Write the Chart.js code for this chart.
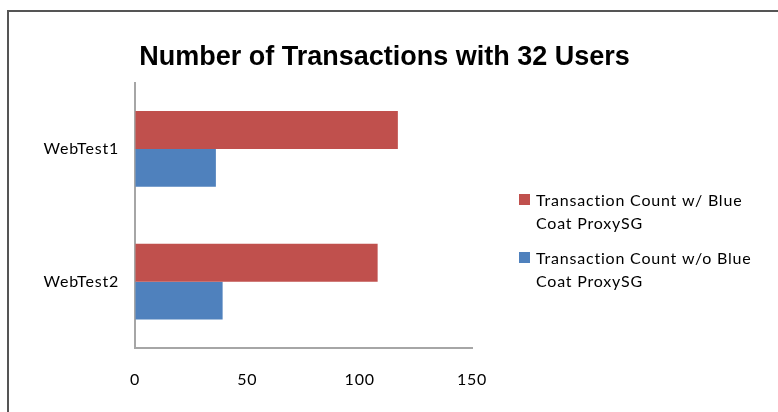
<!DOCTYPE html>
<html>
<head>
<meta charset="utf-8">
<script src="https://cdn.jsdelivr.net/npm/chart.js@4/dist/chart.umd.min.js"></script>
<style>
  html, body { margin: 0; padding: 0; background: #fff; }
  #wrap { width: 778px; height: 412px; position: relative; }
</style>
</head>
<body>
<div id="wrap"><canvas id="c" width="778" height="412"></canvas></div>
<script>
const categories = ['WebTest1', 'WebTest2'];
const withProxy = [117, 108];
const withoutProxy = [36, 39];
const seriesNames = [
  ['Transaction Count w/ Blue', 'Coat ProxySG'],
  ['Transaction Count w/o Blue', 'Coat ProxySG']
];
const xTicks = [0, 50, 100, 150];
const titleText = 'Number of Transactions with 32 Users';

const frame = {
  id: 'frame',
  afterInit(chart) {
    chart.ctx.letterSpacing = '0.8px';
  },
  beforeDraw(chart) {
    const ctx = chart.ctx;
    ctx.save();
    ctx.fillStyle = '#ffffff';
    ctx.fillRect(0, 0, chart.width, chart.height);
    ctx.fillStyle = '#555555';
    ctx.fillRect(7, 10, 2, chart.height - 10);
    ctx.fillRect(7, 10, chart.width - 7, 2);
    ctx.restore();
  }
};

const titleFix = {
  id: 'titleFix',
  afterLayout(chart) {
    const t = chart.titleBlock;
    if (t) {
      t.left = 7; t.right = 762; t.width = 755;
      if (!t._patched) {
        const orig = t.draw;
        t.draw = function () {
          const ctx = chart.ctx;
          ctx.save();
          ctx.letterSpacing = '0px';
          orig.apply(this, arguments);
          ctx.restore();
        };
        t._patched = true;
      }
    }
  }
};

const sideLegend = {
  id: 'sideLegend',
  afterDraw(chart) {
    const ctx = chart.ctx;
    ctx.save();
    ctx.font = '16px Lato';
    ctx.textBaseline = 'alphabetic';
    ctx.textAlign = 'left';
    const tops = [194, 252];
    chart.data.datasets.forEach((ds, i) => {
      const y = tops[i];
      ctx.fillStyle = ds.backgroundColor;
      ctx.fillRect(519, y, 11, 11);
      ctx.fillStyle = '#000';
      const lines = Array.isArray(ds.label) ? ds.label : [ds.label];
      lines.forEach((ln, j) => ctx.fillText(ln, 536, y + 12 + j * 22.5));
    });
    ctx.restore();
  }
};

new Chart(document.getElementById('c'), {
  type: 'bar',
  data: {
    labels: categories,
    datasets: [
      { label: seriesNames[0], data: withProxy, backgroundColor: '#C0504D', categoryPercentage: 0.572, barPercentage: 1.0 },
      { label: seriesNames[1], data: withoutProxy, backgroundColor: '#4F81BD', categoryPercentage: 0.572, barPercentage: 1.0 }
    ]
  },
  options: {
    indexAxis: 'y',
    responsive: false,
    animation: false,
    layout: { padding: { left: 0, top: 10, right: 306, bottom: 0 } },
    plugins: {
      legend: { display: false },
      tooltip: { enabled: false },
      title: {
        display: true,
        text: titleText,
        color: '#000',
        font: { family: 'Liberation Sans', size: 27, weight: 'bold', lineHeight: 1.2 },
        padding: { top: 31.3, bottom: 8.8 }
      }
    },
    scales: {
      x: {
        min: 0, max: 150,
        afterFit(scale) { scale.height = 64; },
        afterBuildTicks(scale) { scale.ticks = xTicks.map(v => ({ value: v })); },
        grid: { display: true, color: 'rgba(0,0,0,0)', drawTicks: false },
        border: { display: true, color: '#a6a6a6', width: 2 },
        ticks: { color: '#000', font: { family: 'Lato', size: 16 }, padding: 22, maxRotation: 0 }
      },
      y: {
        afterFit(scale) { scale.width = 135; },
        grid: { display: true, color: 'rgba(0,0,0,0)', drawTicks: false },
        border: { display: true, color: '#a6a6a6', width: 2 },
        ticks: { color: '#000', font: { family: 'Lato', size: 16 }, padding: 16 }
      }
    }
  },
  plugins: [frame, titleFix, sideLegend]
});
</script>
</body>
</html>
